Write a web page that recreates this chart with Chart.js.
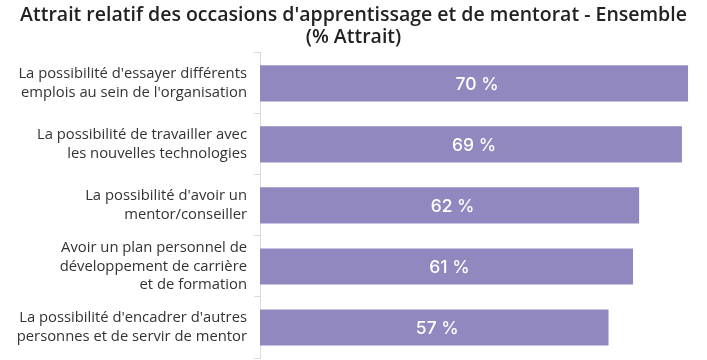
<!DOCTYPE html>
<html>
<head>
<meta charset="utf-8">
<script src="https://cdn.jsdelivr.net/npm/chart.js@4"></script>
<style>
  html, body { margin: 0; padding: 0; background: #fff; }
  #wrap { width: 707px; height: 360px; }
</style>
</head>
<body>
<div id="wrap"><canvas id="chart" width="707" height="360"></canvas></div>
<script>
// categories (multi-line labels) and values, top to bottom
const categories = [
  ["La possibilité d'essayer différents", "emplois au sein de l'organisation"],
  ["La possibilité de travailler avec", "les nouvelles technologies"],
  ["La possibilité d'avoir un", "mentor/conseiller"],
  ["Avoir un plan personnel de", "développement de carrière", "et de formation"],
  ["La possibilité d'encadrer d'autres", "personnes et de servir de mentor"]
];
const attrait = [70, 69, 62, 61, 57];
const titleLines = [
  "Attrait relatif des occasions d'apprentissage et de mentorat - Ensemble",
  "(% Attrait)"
];

// draws "70 %" in the middle of every bar
const valueLabels = {
  id: 'valueLabels',
  afterDatasetsDraw(chart) {
    const ctx = chart.ctx;
    const meta = chart.getDatasetMeta(0);
    ctx.save();
    ctx.fillStyle = '#ffffff';
    ctx.font = '500 17.5px Inter';
    ctx.textAlign = 'center';
    ctx.textBaseline = 'middle';
    meta.data.forEach((bar, i) => {
      const x = (bar.base + bar.x) / 2 + 3;
      ctx.fillText(attrait[i] + ' %', x, bar.y + 1);
    });
    ctx.restore();
  }
};

new Chart(document.getElementById('chart'), {
  type: 'bar',
  data: {
    labels: categories,
    datasets: [{
      data: attrait,
      backgroundColor: '#9188c0',
      barPercentage: 0.8,
      categoryPercentage: 0.74
    }]
  },
  options: {
    indexAxis: 'y',
    responsive: false,
    animation: false,
    layout: { padding: { left: 0, right: 0, top: 0, bottom: 2 } },
    plugins: {
      legend: { display: false },
      tooltip: { enabled: false },
      title: {
        display: true,
        text: titleLines,
        color: '#222222',
        font: { family: 'Open Sans', size: 19.5, weight: '600', lineHeight: 1.15 },
        padding: { top: 4, bottom: 4 }
      }
    },
    scales: {
      x: {
        display: false,
        min: 0,
        max: 73.1
      },
      y: {
        afterFit(scale) {
          scale.width = 260;
          scale.paddingTop = 0;
          scale.paddingBottom = 0;
        },
        border: { display: true, color: '#dcdcdc' },
        grid: { drawOnChartArea: false, offset: true, tickLength: 6, color: '#dcdcdc' },
        ticks: {
          color: '#333333',
          padding: 7,
          font: { family: 'Open Sans', size: 14.8, lineHeight: 1.27 }
        }
      }
    }
  },
  plugins: [valueLabels]
});
</script>
</body>
</html>
